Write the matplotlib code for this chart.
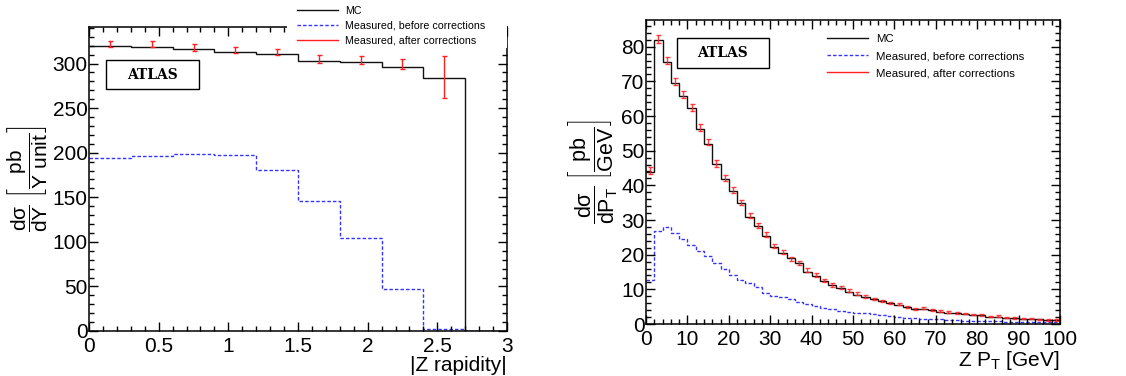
import numpy as np
import matplotlib
matplotlib.use('Agg')
import matplotlib.pyplot as plt
from matplotlib.patches import Rectangle
from matplotlib.lines import Line2D
from matplotlib.ticker import MultipleLocator

plt.rcParams['font.family'] = ['Liberation Sans', 'DejaVu Sans']
plt.rcParams['mathtext.fontset'] = 'custom'
plt.rcParams['mathtext.rm'] = 'Liberation Sans'
plt.rcParams['mathtext.it'] = 'Liberation Sans:italic'
plt.rcParams['mathtext.bf'] = 'Liberation Sans:bold'

# rapidity panel
y_edges = np.linspace(0, 3, 11)
y_mc = [320, 319, 316, 313, 310.5, 303, 302, 296.5, 284, 0]
y_before = [194, 196, 198, 197.5, 180.5, 146, 104, 47, 2, 0.5]
y_centers = [0.15, 0.45, 0.75, 1.05, 1.35, 1.65, 1.95, 2.25, 2.55]
y_after = [322, 322, 318, 315, 313, 305, 304, 299, 285]
y_after_err = [3.5, 3.5, 3.5, 3.3, 3.5, 4.1, 4.1, 5.6, 24]

# pT panel
pt_edges = np.arange(0, 101, 2)
pt_mc = [43.8, 81.9, 75.5, 69.6, 65.7, 62.2, 56.2, 51.8, 46.1, 41.8,
         38.4, 34.8, 31.0, 28.3, 25.4, 22.2, 20.6, 18.9, 17.5, 15.1,
         13.9, 12.5, 11.25, 10.3, 9.3, 8.5, 7.8, 7.1, 6.5, 6.0,
         5.5, 4.9, 4.4, 4.3, 3.9, 3.6, 3.3, 3.1, 2.9, 2.6,
         2.5, 2.1, 2.0, 1.8, 1.7, 1.5, 1.4, 1.3, 1.2, 1.1]
pt_before = [12.7, 26.9, 28.0, 26.2, 24.4, 22.8, 21.2, 19.6, 17.5, 15.8,
             14.1, 12.7, 11.7, 10.8, 9.0, 8.1, 7.9, 7.1, 6.4, 5.8,
             5.2, 4.5, 4.2, 3.8, 3.6, 3.3, 3.1, 2.8, 2.5, 2.3,
             2.0, 1.8, 1.7, 1.5, 1.4, 1.3, 1.2, 1.1, 1.0, 0.9,
             0.85, 0.8, 0.75, 0.7, 0.65, 0.6, 0.6, 0.55, 0.5, 0.5]
pt_after = [44.4, 82.2, 76.0, 70.0, 66.2, 62.5, 56.6, 52.4, 46.3, 42.2,
            38.6, 35.1, 31.3, 28.3, 25.7, 22.6, 20.8, 18.8, 17.7, 15.6,
            14.1, 12.5, 11.25, 10.5, 9.6, 8.7, 7.9, 7.2, 6.6, 6.1,
            5.7, 4.9, 4.3, 4.5, 4.0, 3.7, 3.4, 3.2, 3.0, 2.7,
            2.6, 2.1, 2.3, 1.9, 1.7, 1.6, 1.5, 1.3, 1.2, 1.1]
pt_after_err = [1.0, 1.2, 1.1, 1.0, 1.0, 1.0, 1.0, 0.9, 0.9, 0.9,
                0.8, 0.8, 0.8, 0.7, 0.7, 0.6, 0.6, 0.6, 0.6, 0.5,
                0.5, 0.5, 0.5, 0.4, 0.4, 0.4, 0.4, 0.3, 0.3, 0.3,
                0.3, 0.3, 0.3, 0.3, 0.3, 0.25, 0.25, 0.25, 0.25, 0.2,
                0.2, 0.2, 0.2, 0.2, 0.2, 0.2, 0.2, 0.2, 0.2, 0.2]
pt_centers = (pt_edges[:-1] + pt_edges[1:]) / 2

BLUE = '#3333ff'
RED = '#ff2020'

fig = plt.figure(figsize=(11.26, 3.76), dpi=100)
ax1 = fig.add_axes([89/1126, 45/376, 418/1126, 304/376])
ax2 = fig.add_axes([646/1126, 52/376, 414/1126, 304/376])


def style(ax):
    ax.tick_params(which='both', direction='in', top=True, right=True,
                   labelsize=15, width=1.0)
    ax.tick_params(axis='x', pad=4)
    ax.tick_params(axis='y', pad=1)
    ax.tick_params(which='major', length=6.5)
    ax.tick_params(which='minor', length=3.5)
    for s in ax.spines.values():
        s.set_linewidth(1.1)


def atlas_box(ax, x, y, w, h):
    ax.add_patch(Rectangle((x, y), w, h, transform=ax.transAxes,
                           fill=False, lw=1.0, ec='black', zorder=5))
    ax.text(x + w / 2, y + h / 2, 'ATLAS', transform=ax.transAxes,
            ha='center', va='center', fontsize=10, fontweight='bold',
            family='DejaVu Serif', zorder=6)


# left
ax1.stairs(y_mc, y_edges, baseline=None, color='#111111', lw=1.0)
ax1.stairs(y_before, y_edges, baseline=None, color=BLUE, lw=1.0,
           linestyle=(0, (2.5, 1.5)))
ax1.errorbar(y_centers, y_after, yerr=y_after_err, fmt='none', ecolor=RED,
             elinewidth=1.0, capsize=1.8, capthick=1.0)
ax1.set_xlim(0, 3)
ax1.set_ylim(0, 341)
ax1.xaxis.set_minor_locator(MultipleLocator(0.1))
ax1.yaxis.set_major_locator(MultipleLocator(50))
ax1.yaxis.set_minor_locator(MultipleLocator(10))
ax1.set_xticks([0, 0.5, 1, 1.5, 2, 2.5, 3], ['0', '0.5', '1', '1.5', '2', '2.5', '3'])
style(ax1)
ax1.set_xlabel('|Z rapidity|', loc='right', fontsize=15, labelpad=0)
ax1.set_ylabel(r'$\dfrac{\mathrm{d\sigma}}{\mathrm{dY}}\ \left[\dfrac{\mathrm{pb}}{\mathrm{Y\ unit}}\right]$',
               fontsize=15, labelpad=2)
atlas_box(ax1, 0.0407, 0.796, 0.2225, 0.095)

# white patch hiding the frame behind the outside legend
fig.patches.append(Rectangle((287/1126, 1 - 48/376), 220/1126, 48/376,
                             transform=fig.transFigure, fc='white', ec='none',
                             zorder=3))

handles = [Line2D([], [], color='#111111', lw=1.0),
           Line2D([], [], color=BLUE, lw=1.0, linestyle=(0, (2.5, 1.5))),
           Line2D([], [], color=RED, lw=1.0)]
labels = ['MC', 'Measured, before corrections', 'Measured, after corrections']

leg1 = fig.legend(handles, labels, loc='upper left',
                  bbox_to_anchor=(297/1126, 1 - 6/376), frameon=False,
                  fontsize=7.7, handlelength=3.8, handletextpad=0.7,
                  labelspacing=0.45, borderpad=0, borderaxespad=0)
leg1.set_zorder(4)

# right
ax2.stairs(pt_mc, pt_edges, baseline=None, color='#111111', lw=1.0)
ax2.stairs(pt_before, pt_edges, baseline=None, color=BLUE, lw=1.0,
           linestyle=(0, (2.5, 1.5)))
ax2.errorbar(pt_centers, pt_after, yerr=pt_after_err, fmt='none', ecolor=RED,
             elinewidth=1.0, capsize=1.8, capthick=1.0, alpha=0.85)
ax2.set_xlim(0, 100)
ax2.set_ylim(0, 87.7)
ax2.xaxis.set_major_locator(MultipleLocator(10))
ax2.xaxis.set_minor_locator(MultipleLocator(2))
ax2.yaxis.set_major_locator(MultipleLocator(10))
ax2.yaxis.set_minor_locator(MultipleLocator(2))
style(ax2)
ax2.set_xlabel(r'Z P$_{\mathrm{T}}$ [GeV]', loc='right', fontsize=15, labelpad=0)
ax2.set_ylabel(r'$\dfrac{\mathrm{d\sigma}}{\mathrm{dP_T}}\ \left[\dfrac{\mathrm{pb}}{\mathrm{GeV}}\right]$',
               fontsize=15.5, labelpad=1)
atlas_box(ax2, 0.0749, 0.842, 0.222, 0.099)

ax2.legend(handles, labels, loc='upper left',
           bbox_to_anchor=(827/1126, 1 - 34/376), bbox_transform=fig.transFigure,
           frameon=False, fontsize=8.2, handlelength=3.6, handletextpad=0.7,
           labelspacing=0.62, borderpad=0, borderaxespad=0)

fig.savefig('out.png', dpi=100)
